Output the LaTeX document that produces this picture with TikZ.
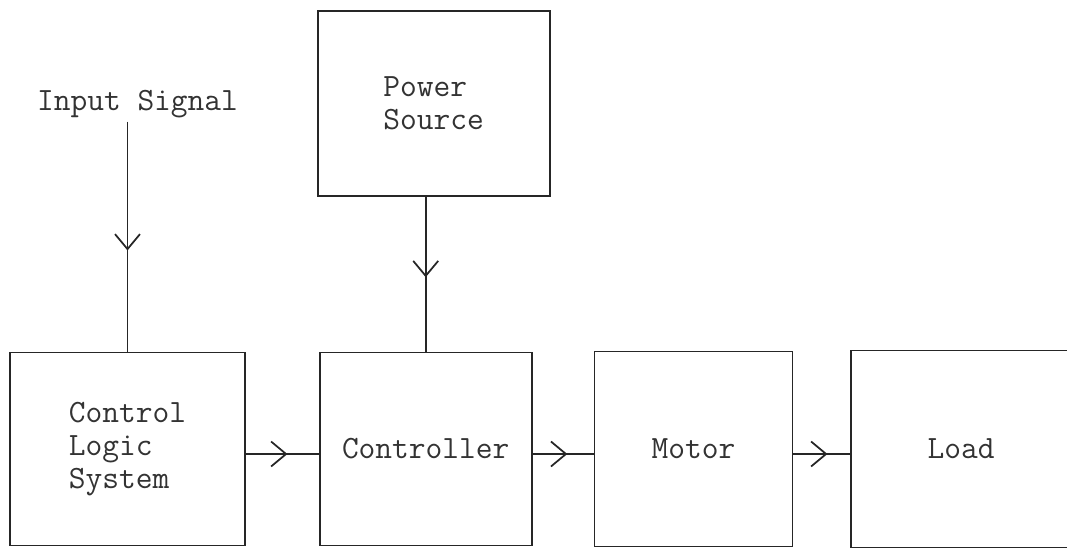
\documentclass[tikz,border=0pt]{standalone}
\usetikzlibrary{arrows.meta,positioning,decorations.markings}

\begin{document}
\begin{tikzpicture}[
      x=0.02cm, y=-0.02cm,
      block/.style={rectangle, draw=black!85, line width=1pt, inner sep=0pt, align=left, text=black!80, font=\ttfamily\fontsize{18.5}{19}\selectfont},
      sigtext/.style={inner sep=2pt, text=black!80, font=\ttfamily\fontsize{18.5}{19}\selectfont},
      flow/.style={draw=black!85, line width=1pt, decoration={markings, mark=at position #1 with {\arrow{Straight Barb[length=3mm,width=5mm]}}}, postaction={decorate}},
      flow/.default=0.55
    ]
    \useasboundingbox (0,0) rectangle (1067,552);
    \clip (0,0) rectangle (1067,552);

    \node[block, minimum width=4.7cm, minimum height=3.86cm] (cls) at (127.5,449) {Control\\Logic\\System};
    \node[block, minimum width=4.24cm, minimum height=3.86cm, right=1.46cm of cls] (ctrl) {Controller};
    \node[block, minimum width=3.96cm, minimum height=3.9cm, right=1.22cm of ctrl] (motor) {Motor};
    \node[block, minimum width=4.4cm, minimum height=3.94cm, right=1.14cm of motor] (load) {Load};
    \node[block, minimum width=4.64cm, minimum height=3.7cm, above=3.1cm of ctrl, xshift=0.16cm] (power) {Power\\Source};
    \node[sigtext] (insig) at (137.5,104) {Input Signal};

    \draw[flow=0.56] (insig.south -| cls.north) -- (cls.north);
    \draw[flow=0.52] (power.south -| ctrl.north) -- (ctrl.north);
    \draw[flow=0.57] ([yshift=-0.1cm]cls.east) -- ([yshift=-0.1cm]ctrl.west);
    \draw[flow=0.57] ([yshift=-0.1cm]ctrl.east) -- ([yshift=-0.1cm]motor.west);
    \draw[flow=0.6] ([yshift=-0.1cm]motor.east) -- ([yshift=-0.1cm]load.west);
  \end{tikzpicture}
\end{document}
